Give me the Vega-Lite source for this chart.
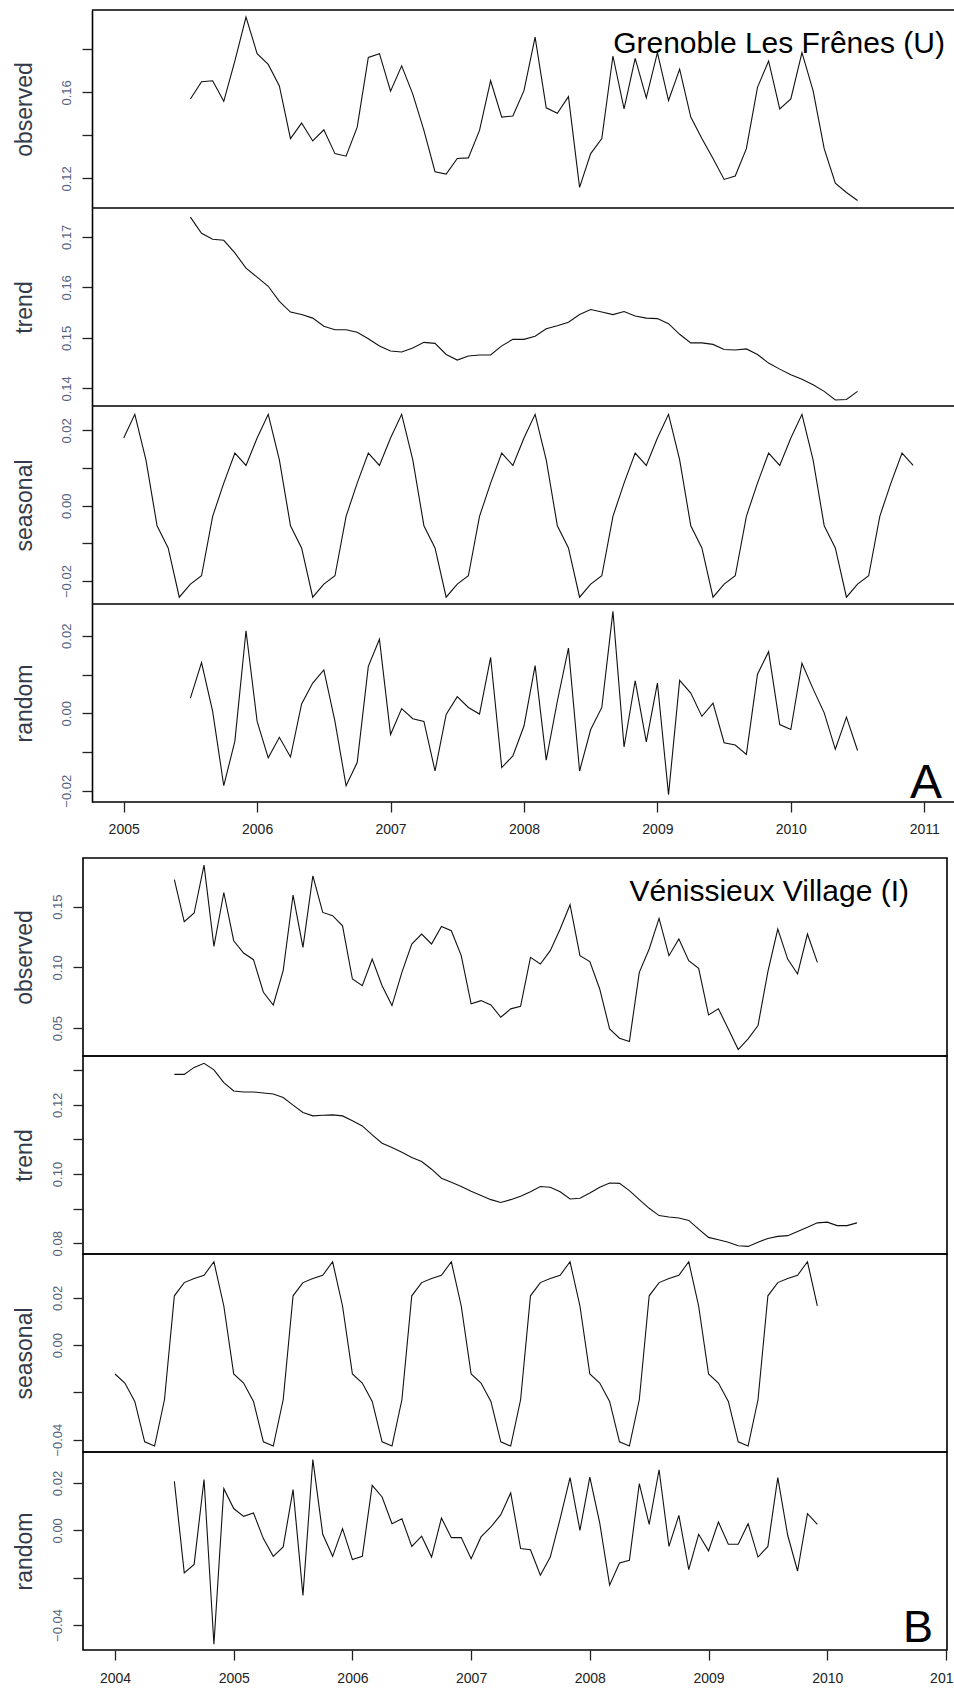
{
  "$schema": "https://vega.github.io/schema/vega-lite/v6.json",
  "padding": {"left": 12, "top": 9, "right": 0, "bottom": 2},
  "config": {
    "font": "Liberation Sans",
    "view": {"stroke": "black", "strokeWidth": 1.6},
    "axis": {"grid": false, "labelFont": "Liberation Sans", "titleFont": "Liberation Sans", "labelFlush": false, "labelOverlap": false},
    "axisY": {"labelAngle": -90, "labelAlign": "center", "labelBaseline": "bottom", "labelFontSize": 13, "labelColor": "#56627e", "labelPadding": 9, "tickSize": 10, "tickColor": "#222222", "tickWidth": 1.3, "titleFontSize": 23, "titleFontWeight": "normal", "titleColor": "#333a4a", "minExtent": 32, "maxExtent": 32, "format": ".2f", "domainColor": "black", "domainWidth": 1.6},
    "axisX": {"labelFontSize": 14, "labelColor": "#222222", "tickSize": 10, "tickColor": "#222222", "tickWidth": 1.3, "domainColor": "black", "domainWidth": 1.6, "format": "d"},
    "line": {"color": "#111111", "strokeWidth": 1.1},
    "rule": {"color": "black", "strokeWidth": 1.6}
  },
  "datasets": {
    "A_obs": [{"t":2005.5,"v":0.1569},{"t":2005.5833,"v":0.1649},{"t":2005.6667,"v":0.1654},{"t":2005.75,"v":0.1558},{"t":2005.8333,"v":0.1746},{"t":2005.9167,"v":0.195},{"t":2006,"v":0.178},{"t":2006.0833,"v":0.173},{"t":2006.1667,"v":0.163},{"t":2006.25,"v":0.1385},{"t":2006.3333,"v":0.1457},{"t":2006.4167,"v":0.1374},{"t":2006.5,"v":0.1426},{"t":2006.5833,"v":0.1315},{"t":2006.6667,"v":0.1303},{"t":2006.75,"v":0.1438},{"t":2006.8333,"v":0.1762},{"t":2006.9167,"v":0.178},{"t":2007,"v":0.1605},{"t":2007.0833,"v":0.1723},{"t":2007.1667,"v":0.1592},{"t":2007.25,"v":0.1423},{"t":2007.3333,"v":0.1231},{"t":2007.4167,"v":0.122},{"t":2007.5,"v":0.1292},{"t":2007.5833,"v":0.1295},{"t":2007.6667,"v":0.1423},{"t":2007.75,"v":0.1654},{"t":2007.8333,"v":0.1485},{"t":2007.9167,"v":0.149},{"t":2008,"v":0.1608},{"t":2008.0833,"v":0.1857},{"t":2008.1667,"v":0.1528},{"t":2008.25,"v":0.1503},{"t":2008.3333,"v":0.158},{"t":2008.4167,"v":0.1158},{"t":2008.5,"v":0.1315},{"t":2008.5833,"v":0.1385},{"t":2008.6667,"v":0.1769},{"t":2008.75,"v":0.1523},{"t":2008.8333,"v":0.1758},{"t":2008.9167,"v":0.1574},{"t":2009,"v":0.1785},{"t":2009.0833,"v":0.1562},{"t":2009.1667,"v":0.1708},{"t":2009.25,"v":0.1485},{"t":2009.3333,"v":0.1385},{"t":2009.4167,"v":0.1292},{"t":2009.5,"v":0.1195},{"t":2009.5833,"v":0.1211},{"t":2009.6667,"v":0.1338},{"t":2009.75,"v":0.1623},{"t":2009.8333,"v":0.1746},{"t":2009.9167,"v":0.1523},{"t":2010,"v":0.1569},{"t":2010.0833,"v":0.1785},{"t":2010.1667,"v":0.1608},{"t":2010.25,"v":0.1338},{"t":2010.3333,"v":0.1177},{"t":2010.4167,"v":0.1134},{"t":2010.5,"v":0.1097}],
    "A_trend": [{"t":2005.5,"v":0.1739},{"t":2005.5833,"v":0.1707},{"t":2005.6667,"v":0.1695},{"t":2005.75,"v":0.1693},{"t":2005.8333,"v":0.1668},{"t":2005.9167,"v":0.1638},{"t":2006,"v":0.162},{"t":2006.0833,"v":0.1602},{"t":2006.1667,"v":0.1572},{"t":2006.25,"v":0.1551},{"t":2006.3333,"v":0.1546},{"t":2006.4167,"v":0.1539},{"t":2006.5,"v":0.1523},{"t":2006.5833,"v":0.1516},{"t":2006.6667,"v":0.1516},{"t":2006.75,"v":0.1511},{"t":2006.8333,"v":0.1498},{"t":2006.9167,"v":0.1484},{"t":2007,"v":0.1474},{"t":2007.0833,"v":0.1472},{"t":2007.1667,"v":0.148},{"t":2007.25,"v":0.1491},{"t":2007.3333,"v":0.1489},{"t":2007.4167,"v":0.1467},{"t":2007.5,"v":0.1456},{"t":2007.5833,"v":0.1464},{"t":2007.6667,"v":0.1466},{"t":2007.75,"v":0.1466},{"t":2007.8333,"v":0.1484},{"t":2007.9167,"v":0.1497},{"t":2008,"v":0.1497},{"t":2008.0833,"v":0.1503},{"t":2008.1667,"v":0.1518},{"t":2008.25,"v":0.1524},{"t":2008.3333,"v":0.1531},{"t":2008.4167,"v":0.1546},{"t":2008.5,"v":0.1556},{"t":2008.5833,"v":0.1551},{"t":2008.6667,"v":0.1546},{"t":2008.75,"v":0.1552},{"t":2008.8333,"v":0.1543},{"t":2008.9167,"v":0.1539},{"t":2009,"v":0.1538},{"t":2009.0833,"v":0.1528},{"t":2009.1667,"v":0.1507},{"t":2009.25,"v":0.149},{"t":2009.3333,"v":0.149},{"t":2009.4167,"v":0.1487},{"t":2009.5,"v":0.1477},{"t":2009.5833,"v":0.1476},{"t":2009.6667,"v":0.1478},{"t":2009.75,"v":0.1467},{"t":2009.8333,"v":0.145},{"t":2009.9167,"v":0.1438},{"t":2010,"v":0.1427},{"t":2010.0833,"v":0.1418},{"t":2010.1667,"v":0.1407},{"t":2010.25,"v":0.1394},{"t":2010.3333,"v":0.1377},{"t":2010.4167,"v":0.1378},{"t":2010.5,"v":0.1394}],
    "A_seas": [{"t":2005,"v":0.018},{"t":2005.0833,"v":0.0243},{"t":2005.1667,"v":0.0122},{"t":2005.25,"v":-0.0053},{"t":2005.3333,"v":-0.0112},{"t":2005.4167,"v":-0.0243},{"t":2005.5,"v":-0.0208},{"t":2005.5833,"v":-0.0186},{"t":2005.6667,"v":-0.0028},{"t":2005.75,"v":0.006},{"t":2005.8333,"v":0.014},{"t":2005.9167,"v":0.0107},{"t":2006,"v":0.018},{"t":2006.0833,"v":0.0243},{"t":2006.1667,"v":0.0122},{"t":2006.25,"v":-0.0053},{"t":2006.3333,"v":-0.0112},{"t":2006.4167,"v":-0.0243},{"t":2006.5,"v":-0.0208},{"t":2006.5833,"v":-0.0186},{"t":2006.6667,"v":-0.0028},{"t":2006.75,"v":0.006},{"t":2006.8333,"v":0.014},{"t":2006.9167,"v":0.0107},{"t":2007,"v":0.018},{"t":2007.0833,"v":0.0243},{"t":2007.1667,"v":0.0122},{"t":2007.25,"v":-0.0053},{"t":2007.3333,"v":-0.0112},{"t":2007.4167,"v":-0.0243},{"t":2007.5,"v":-0.0208},{"t":2007.5833,"v":-0.0186},{"t":2007.6667,"v":-0.0028},{"t":2007.75,"v":0.006},{"t":2007.8333,"v":0.014},{"t":2007.9167,"v":0.0107},{"t":2008,"v":0.018},{"t":2008.0833,"v":0.0243},{"t":2008.1667,"v":0.0122},{"t":2008.25,"v":-0.0053},{"t":2008.3333,"v":-0.0112},{"t":2008.4167,"v":-0.0243},{"t":2008.5,"v":-0.0208},{"t":2008.5833,"v":-0.0186},{"t":2008.6667,"v":-0.0028},{"t":2008.75,"v":0.006},{"t":2008.8333,"v":0.014},{"t":2008.9167,"v":0.0107},{"t":2009,"v":0.018},{"t":2009.0833,"v":0.0243},{"t":2009.1667,"v":0.0122},{"t":2009.25,"v":-0.0053},{"t":2009.3333,"v":-0.0112},{"t":2009.4167,"v":-0.0243},{"t":2009.5,"v":-0.0208},{"t":2009.5833,"v":-0.0186},{"t":2009.6667,"v":-0.0028},{"t":2009.75,"v":0.006},{"t":2009.8333,"v":0.014},{"t":2009.9167,"v":0.0107},{"t":2010,"v":0.018},{"t":2010.0833,"v":0.0243},{"t":2010.1667,"v":0.0122},{"t":2010.25,"v":-0.0053},{"t":2010.3333,"v":-0.0112},{"t":2010.4167,"v":-0.0243},{"t":2010.5,"v":-0.0208},{"t":2010.5833,"v":-0.0186},{"t":2010.6667,"v":-0.0028},{"t":2010.75,"v":0.006},{"t":2010.8333,"v":0.014},{"t":2010.9167,"v":0.0107}],
    "A_rand": [{"t":2005.5,"v":0.0039},{"t":2005.5833,"v":0.0131},{"t":2005.6667,"v":0.0005},{"t":2005.75,"v":-0.0187},{"t":2005.8333,"v":-0.0072},{"t":2005.9167,"v":0.0213},{"t":2006,"v":-0.0021},{"t":2006.0833,"v":-0.0115},{"t":2006.1667,"v":-0.0062},{"t":2006.25,"v":-0.0113},{"t":2006.3333,"v":0.0024},{"t":2006.4167,"v":0.0078},{"t":2006.5,"v":0.0112},{"t":2006.5833,"v":-0.0021},{"t":2006.6667,"v":-0.0187},{"t":2006.75,"v":-0.0127},{"t":2006.8333,"v":0.0121},{"t":2006.9167,"v":0.0191},{"t":2007,"v":-0.0055},{"t":2007.0833,"v":0.0012},{"t":2007.1667,"v":-0.0014},{"t":2007.25,"v":-0.0021},{"t":2007.3333,"v":-0.0149},{"t":2007.4167,"v":-0.0003},{"t":2007.5,"v":0.0043},{"t":2007.5833,"v":0.0015},{"t":2007.6667,"v":-0.0002},{"t":2007.75,"v":0.0144},{"t":2007.8333,"v":-0.014},{"t":2007.9167,"v":-0.011},{"t":2008,"v":-0.0033},{"t":2008.0833,"v":0.0123},{"t":2008.1667,"v":-0.0121},{"t":2008.25,"v":0.0031},{"t":2008.3333,"v":0.0168},{"t":2008.4167,"v":-0.0149},{"t":2008.5,"v":-0.0042},{"t":2008.5833,"v":0.0015},{"t":2008.6667,"v":0.0263},{"t":2008.75,"v":-0.0087},{"t":2008.8333,"v":0.0084},{"t":2008.9167,"v":-0.0074},{"t":2009,"v":0.0078},{"t":2009.0833,"v":-0.021},{"t":2009.1667,"v":0.0085},{"t":2009.25,"v":0.0052},{"t":2009.3333,"v":-0.0008},{"t":2009.4167,"v":0.0026},{"t":2009.5,"v":-0.0076},{"t":2009.5833,"v":-0.0082},{"t":2009.6667,"v":-0.0106},{"t":2009.75,"v":0.0101},{"t":2009.8333,"v":0.0159},{"t":2009.9167,"v":-0.0029},{"t":2010,"v":-0.0042},{"t":2010.0833,"v":0.0129},{"t":2010.1667,"v":0.0063},{"t":2010.25,"v":0.0001},{"t":2010.3333,"v":-0.0093},{"t":2010.4167,"v":-0.001},{"t":2010.5,"v":-0.0096}],
    "B_obs": [{"t":2004.5,"v":0.1721},{"t":2004.5833,"v":0.1375},{"t":2004.6667,"v":0.1447},{"t":2004.75,"v":0.1841},{"t":2004.8333,"v":0.1173},{"t":2004.9167,"v":0.1616},{"t":2005,"v":0.1219},{"t":2005.0833,"v":0.1118},{"t":2005.1667,"v":0.1063},{"t":2005.25,"v":0.0795},{"t":2005.3333,"v":0.069},{"t":2005.4167,"v":0.0973},{"t":2005.5,"v":0.1595},{"t":2005.5833,"v":0.1164},{"t":2005.6667,"v":0.1753},{"t":2005.75,"v":0.1452},{"t":2005.8333,"v":0.1425},{"t":2005.9167,"v":0.1342},{"t":2006,"v":0.0904},{"t":2006.0833,"v":0.0849},{"t":2006.1667,"v":0.1068},{"t":2006.25,"v":0.0849},{"t":2006.3333,"v":0.0685},{"t":2006.4167,"v":0.0959},{"t":2006.5,"v":0.1192},{"t":2006.5833,"v":0.1274},{"t":2006.6667,"v":0.1192},{"t":2006.75,"v":0.1337},{"t":2006.8333,"v":0.1301},{"t":2006.9167,"v":0.1096},{"t":2007,"v":0.0699},{"t":2007.0833,"v":0.0726},{"t":2007.1667,"v":0.069},{"t":2007.25,"v":0.0589},{"t":2007.3333,"v":0.0658},{"t":2007.4167,"v":0.0679},{"t":2007.5,"v":0.1082},{"t":2007.5833,"v":0.1027},{"t":2007.6667,"v":0.1137},{"t":2007.75,"v":0.1315},{"t":2007.8333,"v":0.1515},{"t":2007.9167,"v":0.1096},{"t":2008,"v":0.1047},{"t":2008.0833,"v":0.0822},{"t":2008.1667,"v":0.0493},{"t":2008.25,"v":0.0416},{"t":2008.3333,"v":0.0389},{"t":2008.4167,"v":0.0959},{"t":2008.5,"v":0.1151},{"t":2008.5833,"v":0.1403},{"t":2008.6667,"v":0.1096},{"t":2008.75,"v":0.1233},{"t":2008.8333,"v":0.1055},{"t":2008.9167,"v":0.0992},{"t":2009,"v":0.0608},{"t":2009.0833,"v":0.0658},{"t":2009.1667,"v":0.0493},{"t":2009.25,"v":0.0323},{"t":2009.3333,"v":0.0411},{"t":2009.4167,"v":0.0521},{"t":2009.5,"v":0.0964},{"t":2009.5833,"v":0.1315},{"t":2009.6667,"v":0.1068},{"t":2009.75,"v":0.0945},{"t":2009.8333,"v":0.1274},{"t":2009.9167,"v":0.1041}],
    "B_trend": [{"t":2004.5,"v":0.1288},{"t":2004.5833,"v":0.1288},{"t":2004.6667,"v":0.1308},{"t":2004.75,"v":0.132},{"t":2004.8333,"v":0.1301},{"t":2004.9167,"v":0.1264},{"t":2005,"v":0.124},{"t":2005.0833,"v":0.1237},{"t":2005.1667,"v":0.1237},{"t":2005.25,"v":0.1234},{"t":2005.3333,"v":0.1231},{"t":2005.4167,"v":0.1221},{"t":2005.5,"v":0.1199},{"t":2005.5833,"v":0.1178},{"t":2005.6667,"v":0.1168},{"t":2005.75,"v":0.117},{"t":2005.8333,"v":0.1171},{"t":2005.9167,"v":0.1168},{"t":2006,"v":0.1154},{"t":2006.0833,"v":0.1139},{"t":2006.1667,"v":0.1113},{"t":2006.25,"v":0.1089},{"t":2006.3333,"v":0.1077},{"t":2006.4167,"v":0.1063},{"t":2006.5,"v":0.1048},{"t":2006.5833,"v":0.1036},{"t":2006.6667,"v":0.1014},{"t":2006.75,"v":0.0988},{"t":2006.8333,"v":0.0976},{"t":2006.9167,"v":0.0964},{"t":2007,"v":0.095},{"t":2007.0833,"v":0.0938},{"t":2007.1667,"v":0.0926},{"t":2007.25,"v":0.0918},{"t":2007.3333,"v":0.0926},{"t":2007.4167,"v":0.0936},{"t":2007.5,"v":0.0949},{"t":2007.5833,"v":0.0964},{"t":2007.6667,"v":0.0962},{"t":2007.75,"v":0.0949},{"t":2007.8333,"v":0.0928},{"t":2007.9167,"v":0.093},{"t":2008,"v":0.0945},{"t":2008.0833,"v":0.0962},{"t":2008.1667,"v":0.0974},{"t":2008.25,"v":0.0973},{"t":2008.3333,"v":0.0952},{"t":2008.4167,"v":0.0926},{"t":2008.5,"v":0.0901},{"t":2008.5833,"v":0.088},{"t":2008.6667,"v":0.0876},{"t":2008.75,"v":0.0873},{"t":2008.8333,"v":0.0866},{"t":2008.9167,"v":0.0841},{"t":2009,"v":0.0817},{"t":2009.0833,"v":0.081},{"t":2009.1667,"v":0.0803},{"t":2009.25,"v":0.0793},{"t":2009.3333,"v":0.0791},{"t":2009.4167,"v":0.0803},{"t":2009.5,"v":0.0814},{"t":2009.5833,"v":0.082},{"t":2009.6667,"v":0.0822},{"t":2009.75,"v":0.0834},{"t":2009.8333,"v":0.0846},{"t":2009.9167,"v":0.0859},{"t":2010,"v":0.0861},{"t":2010.0833,"v":0.0851},{"t":2010.1667,"v":0.0851},{"t":2010.25,"v":0.0859}],
    "B_seas": [{"t":2004,"v":-0.0122},{"t":2004.0833,"v":-0.016},{"t":2004.1667,"v":-0.0238},{"t":2004.25,"v":-0.0409},{"t":2004.3333,"v":-0.0427},{"t":2004.4167,"v":-0.0231},{"t":2004.5,"v":0.0209},{"t":2004.5833,"v":0.0265},{"t":2004.6667,"v":0.0282},{"t":2004.75,"v":0.0296},{"t":2004.8333,"v":0.0353},{"t":2004.9167,"v":0.0166},{"t":2005,"v":-0.0122},{"t":2005.0833,"v":-0.016},{"t":2005.1667,"v":-0.0238},{"t":2005.25,"v":-0.0409},{"t":2005.3333,"v":-0.0427},{"t":2005.4167,"v":-0.0231},{"t":2005.5,"v":0.0209},{"t":2005.5833,"v":0.0265},{"t":2005.6667,"v":0.0282},{"t":2005.75,"v":0.0296},{"t":2005.8333,"v":0.0353},{"t":2005.9167,"v":0.0166},{"t":2006,"v":-0.0122},{"t":2006.0833,"v":-0.016},{"t":2006.1667,"v":-0.0238},{"t":2006.25,"v":-0.0409},{"t":2006.3333,"v":-0.0427},{"t":2006.4167,"v":-0.0231},{"t":2006.5,"v":0.0209},{"t":2006.5833,"v":0.0265},{"t":2006.6667,"v":0.0282},{"t":2006.75,"v":0.0296},{"t":2006.8333,"v":0.0353},{"t":2006.9167,"v":0.0166},{"t":2007,"v":-0.0122},{"t":2007.0833,"v":-0.016},{"t":2007.1667,"v":-0.0238},{"t":2007.25,"v":-0.0409},{"t":2007.3333,"v":-0.0427},{"t":2007.4167,"v":-0.0231},{"t":2007.5,"v":0.0209},{"t":2007.5833,"v":0.0265},{"t":2007.6667,"v":0.0282},{"t":2007.75,"v":0.0296},{"t":2007.8333,"v":0.0353},{"t":2007.9167,"v":0.0166},{"t":2008,"v":-0.0122},{"t":2008.0833,"v":-0.016},{"t":2008.1667,"v":-0.0238},{"t":2008.25,"v":-0.0409},{"t":2008.3333,"v":-0.0427},{"t":2008.4167,"v":-0.0231},{"t":2008.5,"v":0.0209},{"t":2008.5833,"v":0.0265},{"t":2008.6667,"v":0.0282},{"t":2008.75,"v":0.0296},{"t":2008.8333,"v":0.0353},{"t":2008.9167,"v":0.0166},{"t":2009,"v":-0.0122},{"t":2009.0833,"v":-0.016},{"t":2009.1667,"v":-0.0238},{"t":2009.25,"v":-0.0409},{"t":2009.3333,"v":-0.0427},{"t":2009.4167,"v":-0.0231},{"t":2009.5,"v":0.0209},{"t":2009.5833,"v":0.0265},{"t":2009.6667,"v":0.0282},{"t":2009.75,"v":0.0296},{"t":2009.8333,"v":0.0353},{"t":2009.9167,"v":0.0166}],
    "B_rand": [{"t":2004.5,"v":0.0207},{"t":2004.5833,"v":-0.018},{"t":2004.6667,"v":-0.0144},{"t":2004.75,"v":0.0215},{"t":2004.8333,"v":-0.0482},{"t":2004.9167,"v":0.0176},{"t":2005,"v":0.0092},{"t":2005.0833,"v":0.0059},{"t":2005.1667,"v":0.0073},{"t":2005.25,"v":-0.0035},{"t":2005.3333,"v":-0.011},{"t":2005.4167,"v":-0.007},{"t":2005.5,"v":0.0172},{"t":2005.5833,"v":-0.0275},{"t":2005.6667,"v":0.0299},{"t":2005.75,"v":-0.0017},{"t":2005.8333,"v":-0.011},{"t":2005.9167,"v":0.0007},{"t":2006,"v":-0.0124},{"t":2006.0833,"v":-0.011},{"t":2006.1667,"v":0.019},{"t":2006.25,"v":0.0141},{"t":2006.3333,"v":0.0028},{"t":2006.4167,"v":0.0049},{"t":2006.5,"v":-0.0068},{"t":2006.5833,"v":-0.0025},{"t":2006.6667,"v":-0.0113},{"t":2006.75,"v":0.0052},{"t":2006.8333,"v":-0.0031},{"t":2006.9167,"v":-0.0031},{"t":2007,"v":-0.012},{"t":2007.0833,"v":-0.0028},{"t":2007.1667,"v":0.0014},{"t":2007.25,"v":0.0066},{"t":2007.3333,"v":0.0158},{"t":2007.4167,"v":-0.0077},{"t":2007.5,"v":-0.0082},{"t":2007.5833,"v":-0.019},{"t":2007.6667,"v":-0.0113},{"t":2007.75,"v":0.0049},{"t":2007.8333,"v":0.0223},{"t":2007.9167,"v":0.0},{"t":2008,"v":0.0225},{"t":2008.0833,"v":0.0031},{"t":2008.1667,"v":-0.0232},{"t":2008.25,"v":-0.0138},{"t":2008.3333,"v":-0.0127},{"t":2008.4167,"v":0.0197},{"t":2008.5,"v":0.0025},{"t":2008.5833,"v":0.0256},{"t":2008.6667,"v":-0.0068},{"t":2008.75,"v":0.0063},{"t":2008.8333,"v":-0.0166},{"t":2008.9167,"v":-0.0017},{"t":2009,"v":-0.0087},{"t":2009.0833,"v":0.0035},{"t":2009.1667,"v":-0.0059},{"t":2009.25,"v":-0.0059},{"t":2009.3333,"v":0.0028},{"t":2009.4167,"v":-0.0113},{"t":2009.5,"v":-0.0068},{"t":2009.5833,"v":0.0223},{"t":2009.6667,"v":-0.0021},{"t":2009.75,"v":-0.0172},{"t":2009.8333,"v":0.007},{"t":2009.9167,"v":0.0025}]
  },
  "vconcat": [
    {
      "vconcat": [
        {
          "width": 871, "height": 198, "view": {"stroke": null},
          "layer": [
            {"data": {"name": "A_obs"}, "mark": {"type": "line"},
             "encoding": {
               "x": {"field": "t", "type": "quantitative", "scale": {"domain": [2004.695, 2011.2228], "nice": false, "zero": false}, "axis": null},
               "y": {"field": "v", "type": "quantitative", "scale": {"domain": [0.1062, 0.1983], "nice": false, "zero": false}, "axis": {"title": "observed", "offset": -9, "titlePadding": 24, "domain": true, "values": [0.12, 0.14, 0.16, 0.18], "labelExpr": "datum.label == '0.12' || datum.label == '0.16' ? datum.label : ''"}}
             }},
            {"data": {"values": [{}]}, "mark": {"type": "rule"},
             "encoding": {"x": {"datum": 2004.7624, "type": "quantitative"}, "x2": {"datum": 2011.2228}, "y": {"datum": 0.1983, "type": "quantitative"}}},
            {"data": {"values": [{}]}, "mark": {"type": "rule"},
             "encoding": {"x": {"datum": 2004.7624, "type": "quantitative"}, "x2": {"datum": 2011.2228}, "y": {"datum": 0.1062, "type": "quantitative"}}},
            {"data": {"values": [{}]}, "mark": {"type": "text", "text": "Grenoble Les Frênes (U)", "align": "right", "baseline": "alphabetic", "fontSize": 30, "color": "black"},
             "encoding": {"x": {"datum": 2011.1552, "type": "quantitative"}, "y": {"datum": 0.1784, "type": "quantitative"}}}
          ]
        },
        {
          "width": 871, "height": 198, "view": {"stroke": null},
          "layer": [
            {"data": {"name": "A_trend"}, "mark": {"type": "line"},
             "encoding": {
               "x": {"field": "t", "type": "quantitative", "scale": {"domain": [2004.695, 2011.2228], "nice": false, "zero": false}, "axis": null},
               "y": {"field": "v", "type": "quantitative", "scale": {"domain": [0.1365, 0.1757], "nice": false, "zero": false}, "axis": {"title": "trend", "offset": -9, "titlePadding": 24, "domain": true, "values": [0.14, 0.15, 0.16, 0.17]}}
             }},
            {"data": {"values": [{}]}, "mark": {"type": "rule"},
             "encoding": {"x": {"datum": 2004.7624, "type": "quantitative"}, "x2": {"datum": 2011.2228}, "y": {"datum": 0.1365, "type": "quantitative"}}}
          ]
        },
        {
          "width": 871, "height": 198, "view": {"stroke": null},
          "layer": [
            {"data": {"name": "A_seas"}, "mark": {"type": "line"},
             "encoding": {
               "x": {"field": "t", "type": "quantitative", "scale": {"domain": [2004.695, 2011.2228], "nice": false, "zero": false}, "axis": null},
               "y": {"field": "v", "type": "quantitative", "scale": {"domain": [-0.0261, 0.0265], "nice": false, "zero": false}, "axis": {"title": "seasonal", "offset": -9, "titlePadding": 24, "domain": true, "values": [-0.02, -0.01, 0, 0.01, 0.02], "labelExpr": "abs(datum.value) < 0.005 || abs(datum.value) > 0.015 ? datum.label : ''"}}
             }},
            {"data": {"values": [{}]}, "mark": {"type": "rule"},
             "encoding": {"x": {"datum": 2004.7624, "type": "quantitative"}, "x2": {"datum": 2011.2228}, "y": {"datum": -0.0261, "type": "quantitative"}}}
          ]
        },
        {
          "width": 871, "height": 198, "view": {"stroke": null},
          "layer": [
            {"data": {"name": "A_rand"}, "mark": {"type": "line"},
             "encoding": {
               "x": {"field": "t", "type": "quantitative", "scale": {"domain": [2004.695, 2011.2228], "nice": false, "zero": false}, "axis": {"title": null, "domain": false, "values": [2005, 2006, 2007, 2008, 2009, 2010, 2011], "labelPadding": 10}},
               "y": {"field": "v", "type": "quantitative", "scale": {"domain": [-0.0229, 0.0282], "nice": false, "zero": false}, "axis": {"title": "random", "offset": -9, "titlePadding": 24, "domain": true, "values": [-0.02, -0.01, 0, 0.01, 0.02], "labelExpr": "abs(datum.value) < 0.005 || abs(datum.value) > 0.015 ? datum.label : ''"}}
             }},
            {"data": {"values": [{}]}, "mark": {"type": "rule"},
             "encoding": {"x": {"datum": 2004.7624, "type": "quantitative"}, "x2": {"datum": 2011.2228}, "y": {"datum": -0.0229, "type": "quantitative"}}},
            {"data": {"values": [{}]}, "mark": {"type": "text", "text": "A", "align": "right", "baseline": "alphabetic", "fontSize": 48, "color": "black"},
             "encoding": {"x": {"datum": 2011.133, "type": "quantitative"}, "y": {"datum": -0.0219, "type": "quantitative"}}}
          ]
        }
      ],
      "spacing": 0,
      "bounds": "flush"
    },
    {
      "vconcat": [
        {
          "width": 864, "height": 198,
          "layer": [
            {"data": {"name": "B_obs"}, "mark": {"type": "line"},
             "encoding": {
               "x": {"field": "t", "type": "quantitative", "scale": {"domain": [2003.7304, 2011.0088], "nice": false, "zero": false}, "axis": null},
               "y": {"field": "v", "type": "quantitative", "scale": {"domain": [0.027, 0.19], "nice": false, "zero": false}, "axis": {"title": "observed", "titlePadding": 15, "domain": false, "values": [0.05, 0.1, 0.15]}}
             }},
            {"data": {"values": [{}]}, "mark": {"type": "text", "text": "Vénissieux Village (I)", "align": "right", "baseline": "alphabetic", "fontSize": 30, "color": "black"},
             "encoding": {"x": {"datum": 2010.6886, "type": "quantitative"}, "y": {"datum": 0.1546, "type": "quantitative"}}}
          ]
        },
        {
          "width": 864, "height": 198,
          "data": {"name": "B_trend"}, "mark": {"type": "line"},
          "encoding": {
            "x": {"field": "t", "type": "quantitative", "scale": {"domain": [2003.7304, 2011.0088], "nice": false, "zero": false}, "axis": null},
            "y": {"field": "v", "type": "quantitative", "scale": {"domain": [0.0769, 0.1341], "nice": false, "zero": false}, "axis": {"title": "trend", "titlePadding": 15, "domain": false, "values": [0.08, 0.09, 0.1, 0.11, 0.12, 0.13], "labelExpr": "round(datum.value * 100) % 2 == 0 ? datum.label : ''"}}
          }
        },
        {
          "width": 864, "height": 198,
          "data": {"name": "B_seas"}, "mark": {"type": "line"},
          "encoding": {
            "x": {"field": "t", "type": "quantitative", "scale": {"domain": [2003.7304, 2011.0088], "nice": false, "zero": false}, "axis": null},
            "y": {"field": "v", "type": "quantitative", "scale": {"domain": [-0.0452, 0.0386], "nice": false, "zero": false}, "axis": {"title": "seasonal", "titlePadding": 15, "domain": false, "values": [-0.04, -0.02, 0, 0.02], "labelExpr": "abs(datum.value + 0.02) < 0.001 ? '' : datum.label"}}
          }
        },
        {
          "width": 864, "height": 198,
          "layer": [
            {"data": {"name": "B_rand"}, "mark": {"type": "line"},
             "encoding": {
               "x": {"field": "t", "type": "quantitative", "scale": {"domain": [2003.7304, 2011.0088], "nice": false, "zero": false}, "axis": {"title": null, "domain": false, "values": [2004, 2005, 2006, 2007, 2008, 2009, 2010, 2011], "labelPadding": 11, "labelExpr": "datum.value == 2011 ? '201' : datum.label", "labelFlush": 2, "labelFlushOffset": 7}},
               "y": {"field": "v", "type": "quantitative", "scale": {"domain": [-0.0506, 0.0331], "nice": false, "zero": false}, "axis": {"title": "random", "titlePadding": 15, "domain": false, "values": [-0.04, -0.02, 0, 0.02], "labelExpr": "abs(datum.value + 0.02) < 0.001 ? '' : datum.label"}}
             }},
            {"data": {"values": [{}]}, "mark": {"type": "text", "text": "B", "align": "right", "baseline": "alphabetic", "fontSize": 45, "color": "black"},
             "encoding": {"x": {"datum": 2010.8907, "type": "quantitative"}, "y": {"datum": -0.0472, "type": "quantitative"}}}
          ]
        }
      ],
      "spacing": 0,
      "bounds": "flush"
    }
  ],
  "spacing": 21
}
